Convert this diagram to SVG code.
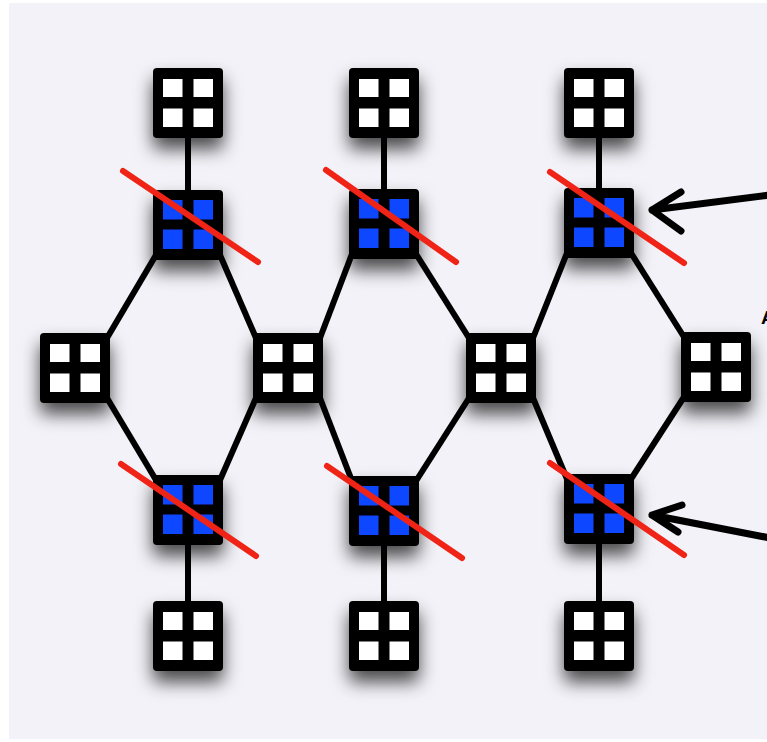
<svg xmlns="http://www.w3.org/2000/svg" xmlns:xlink="http://www.w3.org/1999/xlink" width="767" height="742" viewBox="0 0 767 742">
<style>
.edge{stroke:#000;stroke-width:6;fill:none;stroke-linecap:butt}
.cut{stroke:#f02416;stroke-width:6;stroke-linecap:round;fill:none}
.arrow{stroke:#000;stroke-width:7;fill:none;stroke-linecap:round;stroke-linejoin:round}
.wsq{fill:#fff}
.bsq{fill:#0f47ff}
.box{fill:#000}
</style>
<defs>
<filter id="sh" x="-60%" y="-60%" width="220%" height="240%">
<feDropShadow dx="0" dy="11" stdDeviation="9" flood-color="#000" flood-opacity="0.7"/>
</filter>
<g id="wn">
<rect class="box" x="-35" y="-35" width="70" height="70" rx="4"/>
<rect class="wsq" x="-25" y="-24" width="19.5" height="18"/>
<rect class="wsq" x="5.5" y="-24" width="19.5" height="18"/>
<rect class="wsq" x="-25" y="5.5" width="19.5" height="18.5"/>
<rect class="wsq" x="5.5" y="5.5" width="19.5" height="18.5"/>
</g>
<g id="bn">
<rect class="box" x="-35" y="-35" width="70" height="70" rx="4"/>
<rect class="bsq" x="-25" y="-25" width="19.5" height="19.5"/>
<rect class="bsq" x="5.5" y="-25" width="19.5" height="19.5"/>
<rect class="bsq" x="-25" y="4.5" width="19.5" height="19.5"/>
<rect class="bsq" x="5.5" y="4.5" width="19.5" height="19.5"/>
</g>
</defs>
<rect x="0" y="0" width="767" height="742" fill="#fff"/>
<rect x="9" y="3" width="758" height="736" fill="#f2f2f8"/>
<g id="connectors">
<line class="edge" x1="188" y1="103" x2="188" y2="225"/>
<line class="edge" x1="384" y1="103" x2="384" y2="224"/>
<line class="edge" x1="599" y1="103" x2="599" y2="223"/>
<line class="edge" x1="188" y1="510" x2="188" y2="636"/>
<line class="edge" x1="384" y1="511" x2="384" y2="636"/>
<line class="edge" x1="599" y1="509" x2="599" y2="636"/>
<line class="edge" x1="156" y1="255" x2="107" y2="338"/>
<line class="edge" x1="220" y1="255" x2="256" y2="338"/>
<line class="edge" x1="352" y1="254" x2="320" y2="338"/>
<line class="edge" x1="416" y1="254" x2="469" y2="338"/>
<line class="edge" x1="567" y1="253" x2="533" y2="338"/>
<line class="edge" x1="631" y1="253" x2="684" y2="337"/>
<line class="edge" x1="107" y1="398" x2="156" y2="480"/>
<line class="edge" x1="256" y1="398" x2="220" y2="480"/>
<line class="edge" x1="320" y1="398" x2="352" y2="481"/>
<line class="edge" x1="469" y1="398" x2="416" y2="481"/>
<line class="edge" x1="533" y1="398" x2="567" y2="479"/>
<line class="edge" x1="684" y1="397" x2="631" y2="479"/>
</g>
<g id="top1" filter="url(#sh)"><use xlink:href="#wn" href="#wn" x="188" y="103"/></g>
<g id="top2" filter="url(#sh)"><use xlink:href="#wn" href="#wn" x="384" y="103"/></g>
<g id="top3" filter="url(#sh)"><use xlink:href="#wn" href="#wn" x="599" y="103"/></g>
<g id="mid1" filter="url(#sh)"><use xlink:href="#wn" href="#wn" x="75" y="368"/></g>
<g id="mid2" filter="url(#sh)"><use xlink:href="#wn" href="#wn" x="288" y="368"/></g>
<g id="mid3" filter="url(#sh)"><use xlink:href="#wn" href="#wn" x="501" y="368"/></g>
<g id="mid4" filter="url(#sh)"><use xlink:href="#wn" href="#wn" x="716" y="367"/></g>
<g id="bot1" filter="url(#sh)"><use xlink:href="#wn" href="#wn" x="188" y="636"/></g>
<g id="bot2" filter="url(#sh)"><use xlink:href="#wn" href="#wn" x="384" y="636"/></g>
<g id="bot3" filter="url(#sh)"><use xlink:href="#wn" href="#wn" x="599" y="636"/></g>
<g id="blueTop1" filter="url(#sh)"><use xlink:href="#bn" href="#bn" x="188" y="225"/></g>
<g id="blueTop2" filter="url(#sh)"><use xlink:href="#bn" href="#bn" x="384" y="224"/></g>
<g id="blueTop3" filter="url(#sh)"><use xlink:href="#bn" href="#bn" x="599" y="223"/></g>
<g id="blueBot1" filter="url(#sh)"><use xlink:href="#bn" href="#bn" x="188" y="510"/></g>
<g id="blueBot2" filter="url(#sh)"><use xlink:href="#bn" href="#bn" x="384" y="511"/></g>
<g id="blueBot3" filter="url(#sh)"><use xlink:href="#bn" href="#bn" x="599" y="509"/></g>
<g id="cuts">
<line class="cut" x1="123" y1="171" x2="258" y2="262"/>
<line class="cut" x1="326" y1="170" x2="456" y2="262"/>
<line class="cut" x1="550" y1="172" x2="684" y2="263"/>
<line class="cut" x1="121" y1="464" x2="256" y2="556"/>
<line class="cut" x1="327" y1="466" x2="462" y2="558"/>
<line class="cut" x1="550" y1="463" x2="684" y2="555"/>
</g>
<g id="arrows">
<path class="arrow" d="M770 195 L652 210 M681 192 L652 210 L681 231"/>
<path class="arrow" d="M770 538 L652 515 M682 505 L652 515 L678 532"/>
</g>
<text x="761" y="324" font-family="Liberation Sans, Arial, sans-serif" font-weight="bold" font-size="19" fill="#000">A</text>
</svg>
